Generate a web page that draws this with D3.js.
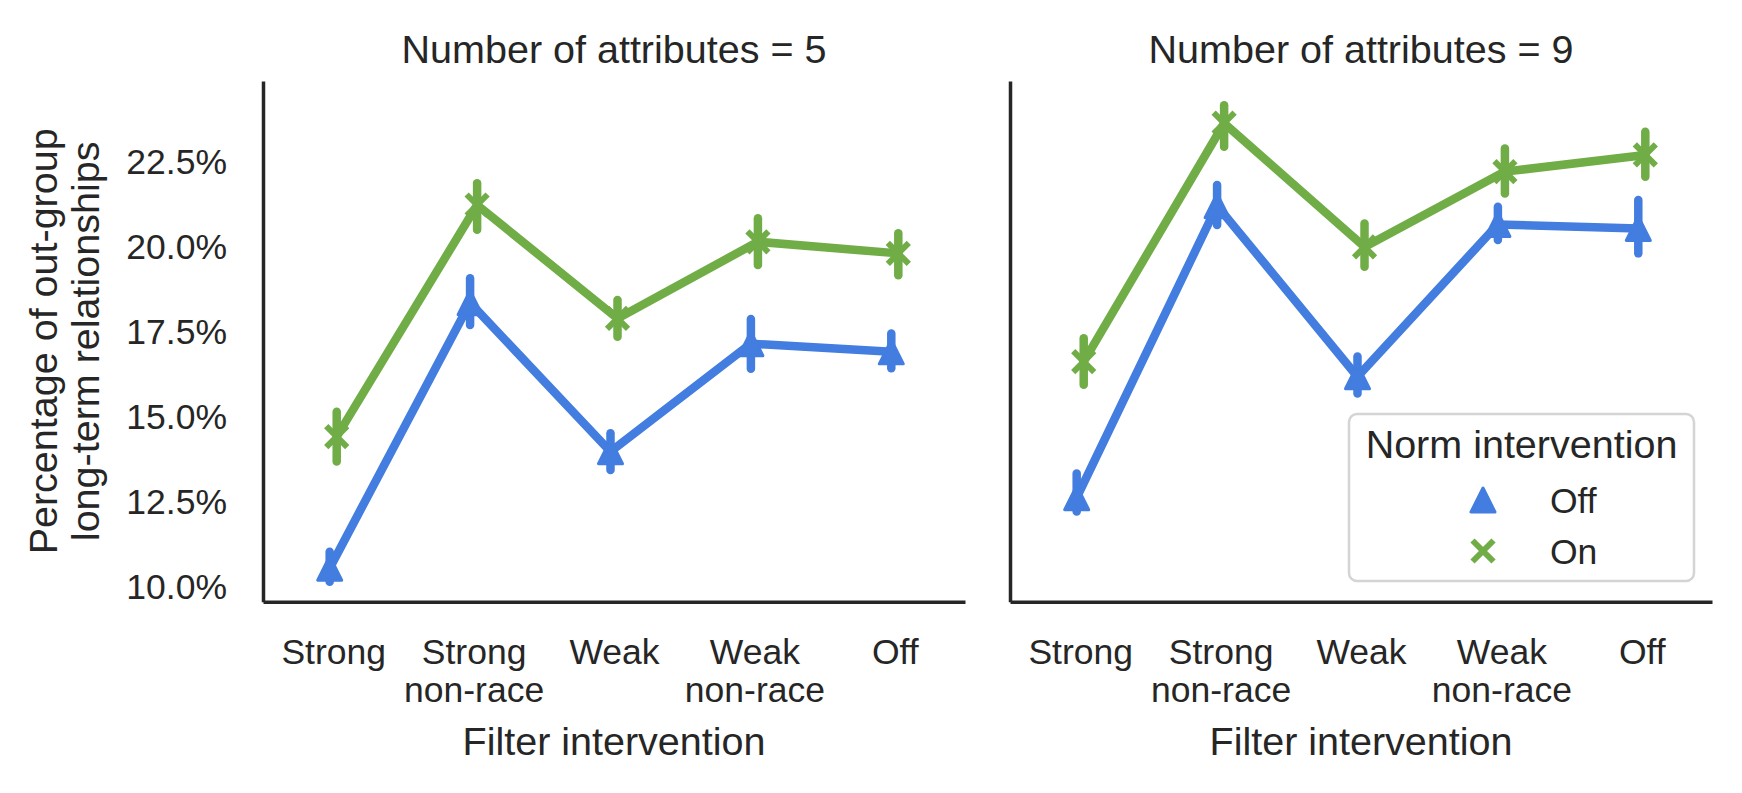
<!DOCTYPE html>
<html>
<head>
<meta charset="utf-8">
<script src="https://cdn.jsdelivr.net/npm/d3@7"></script>
<style>
    body { margin: 0; background: #ffffff; }
    text { font-family: "Liberation Sans", Arial, sans-serif; fill: #262626; }
</style>
</head>
<body>
<svg id="chart" width="1742" height="793"></svg>
<script>
// categories on the x axis (a space marks the line break)
var categories = ["Strong", "Strong non-race", "Weak", "Weak non-race", "Off"];
var panelTitles = ["Number of attributes = 5", "Number of attributes = 9"];
var yTicks = [10, 12.5, 15, 17.5, 20, 22.5];
var normLevels = ["Off", "On"];

// attributes = 5, norm intervention Off / On (percent, mean and CI)
var off5 = [10.53, 18.32, 13.95, 17.12, 16.88];
var off5Low = [10.13, 17.67, 13.41, 16.38, 16.40];
var off5High = [11.01, 19.04, 14.49, 17.84, 17.42];
var on5 = [14.39, 21.19, 17.86, 20.11, 19.77];
var on5Low = [13.66, 20.46, 17.32, 19.43, 19.13];
var on5High = [15.12, 21.83, 18.40, 20.80, 20.36];

// attributes = 9
var off9 = [12.60, 21.17, 16.15, 20.62, 20.50];
var off9Low = [12.19, 20.60, 15.66, 20.16, 19.77];
var off9High = [13.31, 21.78, 16.74, 21.14, 21.34];
var on9 = [16.59, 23.59, 19.96, 22.17, 22.66];
var on9Low = [15.91, 22.90, 19.38, 21.53, 22.02];
var on9High = [17.28, 24.12, 20.65, 22.85, 23.34];

var colors = { "Off": "#427ddf", "On": "#70ad47" };
var ink = "#262626";

var svg = d3.select("#chart");

var plotTop = 81, plotBottom = 601.7;
var y = d3.scaleLinear()
    .domain([9.545, 24.83])
    .range([plotBottom, plotTop]);

var panelX = [[263, 965], [1010, 1712]];

// build series objects for each panel
function series(mean, low, high) {
    return categories.map(function (c, i) {
        return { cat: c, v: mean[i], lo: low[i], hi: high[i] };
    });
}
var panelData = [
    { Off: series(off5, off5Low, off5High), On: series(on5, on5Low, on5High) },
    { Off: series(off9, off9Low, off9High), On: series(on9, on9Low, on9High) }
];

function triangle(s) {
    return "M0," + (-s) + "L" + (-s) + "," + s + "L" + s + "," + s + "Z";
}

// y label (two lines, rotated)
var ylab = svg.append("g").attr("transform", "rotate(-90)");
["Percentage of out-group", "long-term relationships"].forEach(function (t, i) {
    ylab.append("text")
        .attr("x", -(plotTop + plotBottom) / 2)
        .attr("y", 43 + i * 42)
        .attr("dy", "0.36em")
        .attr("text-anchor", "middle")
        .attr("font-size", "39.5px")
        .text(t);
});

panelData.forEach(function (pd, p) {
    var x0 = panelX[p][0], x1 = panelX[p][1];
    var x = d3.scalePoint()
        .domain(categories)
        .range([x0, x1])
        .padding(0.5);
    var dodge = x.step() * 0.025;

    var g = svg.append("g");

    // title
    g.append("text")
        .attr("x", (x0 + x1) / 2)
        .attr("y", 63)
        .attr("text-anchor", "middle")
        .attr("font-size", "39.5px")
        .text(panelTitles[p]);

    // y axis (labels only on first panel)
    var yAxis = d3.axisLeft(y)
        .tickValues(yTicks)
        .tickSize(0)
        .tickPadding(36)
        .tickFormat(function (d) { return d3.format(".1f")(d) + "%"; });
    var ya = g.append("g")
        .attr("transform", "translate(" + x0 + ",0)")
        .call(yAxis);
    ya.select(".domain").attr("stroke", ink).attr("stroke-width", 3.5);
    ya.selectAll("text")
        .attr("font-size", "35.5px")
        .attr("font-family", "Liberation Sans, Arial, sans-serif")
        .attr("fill", ink)
        .attr("dy", "0.36em");
    if (p > 0) ya.selectAll("text").remove();

    // x axis
    var xAxis = d3.axisBottom(x).tickSize(0).tickPadding(0);
    var xa = g.append("g")
        .attr("transform", "translate(0," + plotBottom + ")")
        .call(xAxis);
    xa.select(".domain").attr("stroke", ink).attr("stroke-width", 3.5);
    xa.selectAll("text")
        .attr("font-size", "35.5px")
        .attr("font-family", "Liberation Sans, Arial, sans-serif")
        .attr("fill", ink)
        .attr("y", 0)
        .attr("dy", null)
        .each(function (d) {
            var t = d3.select(this).text(null);
            d.split(" ").forEach(function (part, i) {
                t.append("tspan")
                    .attr("x", 0)
                    .attr("y", 62 + i * 38.5)
                    .text(part);
            });
        });

    // x label
    g.append("text")
        .attr("x", (x0 + x1) / 2)
        .attr("y", 755)
        .attr("text-anchor", "middle")
        .attr("font-size", "39.5px")
        .text("Filter intervention");

    // hue series: line, error bars, markers
    normLevels.forEach(function (lvl, h) {
        var off = (h === 0 ? -dodge : dodge);
        var data = pd[lvl];
        var col = colors[lvl];

        var line = d3.line()
            .x(function (d) { return x(d.cat) + off; })
            .y(function (d) { return y(d.v); });

        g.append("path")
            .datum(data)
            .attr("d", line)
            .attr("fill", "none")
            .attr("stroke", col)
            .attr("stroke-width", 8.5)
            .attr("stroke-linejoin", "round")
            .attr("stroke-linecap", "round");

        g.selectAll(".ci" + h)
            .data(data)
            .enter()
            .append("line")
            .attr("x1", function (d) { return x(d.cat) + off; })
            .attr("x2", function (d) { return x(d.cat) + off; })
            .attr("y1", function (d) { return y(d.lo); })
            .attr("y2", function (d) { return y(d.hi); })
            .attr("stroke", col)
            .attr("stroke-width", 8.5)
            .attr("stroke-linecap", "round");

        var pts = g.selectAll(".pt" + h)
            .data(data)
            .enter()
            .append("g")
            .attr("transform", function (d) {
                return "translate(" + (x(d.cat) + off) + "," + y(d.v) + ")";
            });
        if (lvl === "Off") {
            pts.append("path")
                .attr("d", triangle(12))
                .attr("fill", col)
                .attr("stroke", col)
                .attr("stroke-width", 3)
                .attr("stroke-linejoin", "round");
        } else {
            pts.append("path")
                .attr("d", "M-10.5,-10.5L10.5,10.5M-10.5,10.5L10.5,-10.5")
                .attr("fill", "none")
                .attr("stroke", col)
                .attr("stroke-width", 6);
        }
    });
});

// legend in the right panel
var legend = svg.append("g");
legend.append("rect")
    .attr("x", 1349)
    .attr("y", 414)
    .attr("width", 345)
    .attr("height", 167)
    .attr("rx", 8)
    .attr("fill", "#ffffff")
    .attr("fill-opacity", 0.8)
    .attr("stroke", "#d4d4d4")
    .attr("stroke-width", 2.5);
legend.append("text")
    .attr("x", 1521.5)
    .attr("y", 458)
    .attr("text-anchor", "middle")
    .attr("font-size", "39.5px")
    .text("Norm intervention");

normLevels.forEach(function (lvl, i) {
    var cy = 500 + i * 51;
    var mg = legend.append("g").attr("transform", "translate(1483," + cy + ")");
    if (lvl === "Off") {
        mg.append("path")
            .attr("d", triangle(12))
            .attr("fill", colors[lvl])
            .attr("stroke", colors[lvl])
            .attr("stroke-width", 3)
            .attr("stroke-linejoin", "round");
    } else {
        mg.append("path")
            .attr("d", "M-10.5,-10.5L10.5,10.5M-10.5,10.5L10.5,-10.5")
            .attr("stroke", colors[lvl])
            .attr("stroke-width", 6);
    }
    legend.append("text")
        .attr("x", 1550)
        .attr("y", cy)
        .attr("dy", "0.36em")
        .attr("font-size", "35.5px")
        .text(lvl);
});
</script>
</body>
</html>
